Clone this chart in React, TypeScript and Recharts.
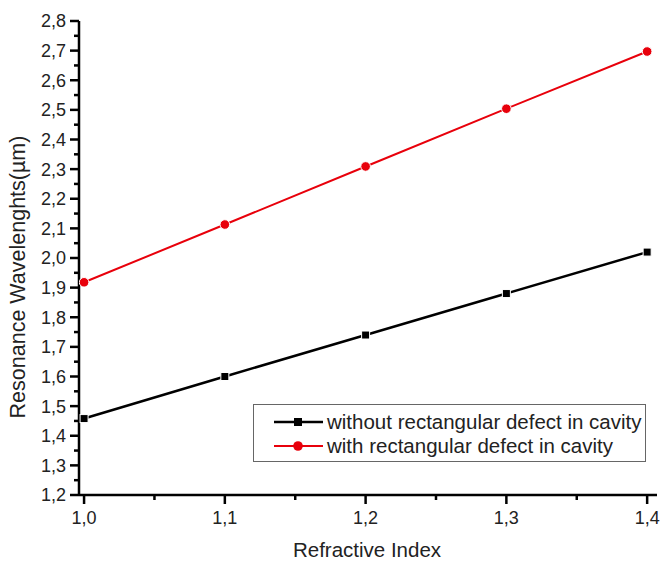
import React from 'react';
import { LineChart, Line, XAxis, YAxis, Legend } from 'recharts';

const REFRACTIVE_INDEX = [1.0, 1.1, 1.2, 1.3, 1.4];
const WITHOUT_DEFECT = [1.458, 1.6, 1.74, 1.88, 2.02];
const WITH_DEFECT = [1.918, 2.113, 2.309, 2.504, 2.697];

const X_TICKS = [1.0, 1.05, 1.1, 1.15, 1.2, 1.25, 1.3, 1.35, 1.4];
const Y_TICKS = [
  1.2, 1.25, 1.3, 1.35, 1.4, 1.45, 1.5, 1.55, 1.6, 1.65, 1.7, 1.75, 1.8, 1.85,
  1.9, 1.95, 2.0, 2.05, 2.1, 2.15, 2.2, 2.25, 2.3, 2.35, 2.4, 2.45, 2.5, 2.55,
  2.6, 2.65, 2.7, 2.75, 2.8,
];

const SERIES_NAMES = ['without rectangular defect in cavity', 'with rectangular defect in cavity'];

const data = REFRACTIVE_INDEX.map((x, i) => ({
  x,
  without: WITHOUT_DEFECT[i],
  with: WITH_DEFECT[i],
}));

const FONT = '"Liberation Sans", Arial, sans-serif';
const RED = '#e8000b';

const isMajor = (v: number) => Math.round(v * 100) % 10 === 0;
const fmt = (v: number) => v.toFixed(1).replace('.', ',');

const YTick = (props: any) => {
  const { x, y, payload } = props;
  const major = isMajor(payload.value);
  return (
    <g>
      <line x1={x} x2={x - (major ? 9 : 5)} y1={y} y2={y} stroke="#000" strokeWidth={2.5} />
      {major && (
        <text x={x - 13} y={y} dy="0.36em" textAnchor="end" fontSize={18} fontFamily={FONT} fill="#222">
          {fmt(payload.value)}
        </text>
      )}
    </g>
  );
};

const XTick = (props: any) => {
  const { x, y, payload } = props;
  const major = isMajor(payload.value);
  return (
    <g>
      <line x1={x} x2={x} y1={y} y2={y + (major ? 9 : 5)} stroke="#000" strokeWidth={2.5} />
      {major && (
        <text x={x} y={y + 29} textAnchor="middle" fontSize={18} fontFamily={FONT} fill="#222">
          {fmt(payload.value)}
        </text>
      )}
    </g>
  );
};

const SquareDot = (props: any) => {
  const { cx, cy } = props;
  return <rect x={cx - 4} y={cy - 4} width={8} height={8} fill="#000" stroke="#fff" strokeWidth={1} />;
};

const CircleDot = (props: any) => {
  const { cx, cy } = props;
  return <circle cx={cx} cy={cy} r={4.8} fill={RED} stroke="#fff" strokeWidth={1} />;
};

const LegendBox = () => (
  <div
    style={{
      border: '1.5px solid #666',
      background: '#fff',
      width: 393,
      height: 58,
      boxSizing: 'border-box',
      fontFamily: FONT,
      fontSize: 20.5,
      color: '#222',
      paddingTop: 5,
    }}
  >
    {SERIES_NAMES.map((name, i) => (
      <div key={name} style={{ display: 'flex', alignItems: 'center', height: 24 }}>
        <svg width={72} height={20} style={{ marginLeft: 18 }}>
          <line x1={2} x2={51} y1={10} y2={10} stroke={i === 0 ? '#000' : RED} strokeWidth={i === 0 ? 2.5 : 2} />
          {i === 0 ? (
            <rect x={22} y={6} width={8} height={8} fill="#000" />
          ) : (
            <circle cx={26} cy={10} r={4.8} fill={RED} />
          )}
        </svg>
        <span style={{ marginLeft: -17 }}>{name}</span>
      </div>
    ))}
  </div>
);

export default function App() {
  return (
    <div style={{ position: 'absolute', left: 0, top: 0, background: '#fff' }}>
      <LineChart width={661} height={562} data={data} margin={{ top: 21, right: 4, bottom: 0, left: 0 }}>
        <XAxis
          dataKey="x"
          type="number"
          domain={[0.9964, 1.407]}
          allowDataOverflow
          ticks={X_TICKS}
          interval={0}
          tickSize={0}
          tickMargin={0}
          tickLine={false}
          tick={<XTick />}
          height={67}
          axisLine={{ stroke: '#000', strokeWidth: 2.5 }}
          label={() => (
            <text x={367} y={557} textAnchor="middle" fontSize={20.5} fontFamily={FONT} fill="#222">
              Refractive Index
            </text>
          )}
        />
        <YAxis
          type="number"
          domain={[1.2, 2.8]}
          allowDataOverflow
          ticks={Y_TICKS}
          interval={0}
          tickSize={0}
          tickMargin={0}
          tickLine={false}
          tick={<YTick />}
          width={79}
          axisLine={{ stroke: '#000', strokeWidth: 2.5 }}
          label={() => (
            <text
              x={0}
              y={0}
              transform="translate(25, 277) rotate(-90)"
              textAnchor="middle"
              fontSize={21.5}
              fontFamily={FONT}
              fill="#222"
            >
              Resonance Wavelenghts(µm)
            </text>
          )}
        />
        <Legend
          verticalAlign="middle"
          align="center"
          layout="vertical"
          content={() => <LegendBox />}
          wrapperStyle={{ left: 253, top: 404, width: 393, height: 58 }}
        />
        <Line
          dataKey="without"
          name={SERIES_NAMES[0]}
          stroke="#000"
          strokeWidth={2.5}
          dot={<SquareDot />}
          isAnimationActive={false}
        />
        <Line
          dataKey="with"
          name={SERIES_NAMES[1]}
          stroke={RED}
          strokeWidth={2}
          dot={<CircleDot />}
          isAnimationActive={false}
        />
      </LineChart>
    </div>
  );
}
